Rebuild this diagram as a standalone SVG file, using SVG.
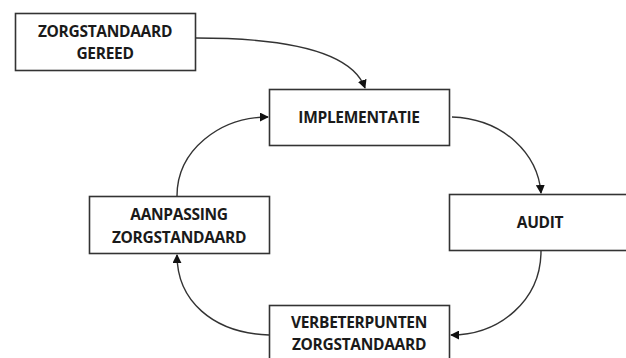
<svg xmlns="http://www.w3.org/2000/svg" width="626" height="358" viewBox="0 0 626 358">
<style>
rect.box{fill:#fff;stroke:#333;stroke-width:1.6}
text{font-family:"Open Sans","Liberation Sans",sans-serif;font-weight:700;font-size:15.5px;fill:#1a1a1a;text-anchor:middle;letter-spacing:-0.3px}
path.c{fill:none;stroke:#333;stroke-width:1.4}
</style>
<defs>
<marker id="ah" viewBox="0 0 10 10" refX="9" refY="5" markerWidth="9" markerHeight="9" orient="auto" markerUnits="userSpaceOnUse">
<path d="M0,0 L10,5 L0,10 z" fill="#111"/>
</marker>
</defs>
<rect width="626" height="358" fill="#fff"/>
<g id="connectors">
<path class="c" d="M196,38 C290,38 352,52 365,88" marker-end="url(#ah)"/>
<path class="c" d="M452,117 C505,119 538,155 541,193" marker-end="url(#ah)"/>
<path class="c" d="M541,251 C541,300 500,335 451,335" marker-end="url(#ah)"/>
<path class="c" d="M269,335 C212,333 177,300 177,255" marker-end="url(#ah)"/>
<path class="c" d="M177,196 C177,150 220,117 268,117" marker-end="url(#ah)"/>
</g>
<g id="n1"><rect class="box" x="15.5" y="13.5" width="180" height="57"/><text x="105" y="37">ZORGSTANDAARD</text><text x="105" y="59">GEREED</text></g>
<g id="n2"><rect class="box" x="269.5" y="89.5" width="180" height="56"/><text x="359" y="123">IMPLEMENTATIE</text></g>
<g id="n3"><rect class="box" x="449.5" y="194.5" width="178" height="56"/><text x="540" y="228">AUDIT</text></g>
<g id="n4"><rect class="box" x="269.5" y="305.5" width="180" height="56"/><text x="359" y="328">VERBETERPUNTEN</text><text x="359" y="350">ZORGSTANDAARD</text></g>
<g id="n5"><rect class="box" x="89.5" y="196.5" width="180" height="57"/><text x="179" y="220">AANPASSING</text><text x="179" y="243">ZORGSTANDAARD</text></g>
</svg>
